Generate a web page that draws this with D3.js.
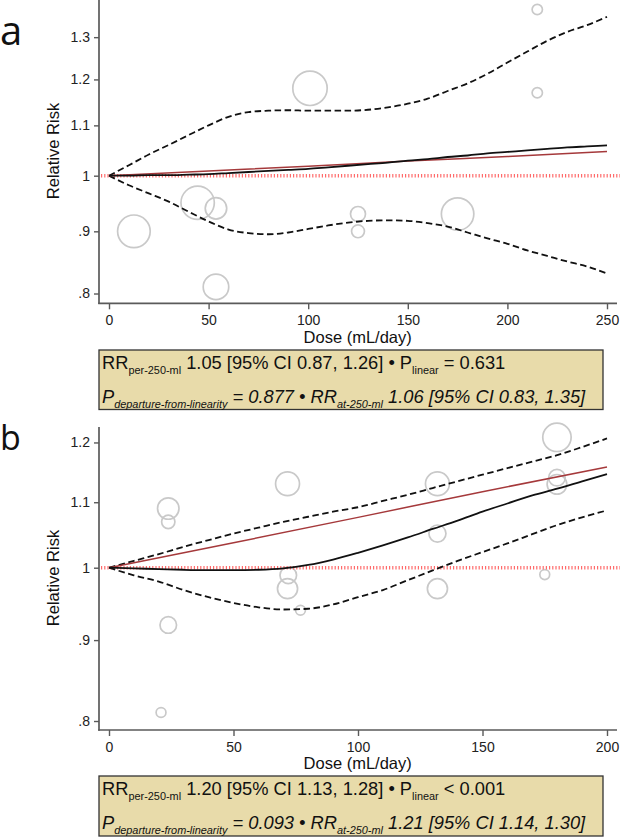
<!DOCTYPE html>
<html>
<head>
<meta charset="utf-8">
<script src="https://cdn.jsdelivr.net/npm/d3@7"></script>
<style>
  html, body { margin: 0; padding: 0; background: #fff; }
  svg { display: block; }
  text { font-family: "Liberation Sans", Arial, Helvetica, sans-serif; }
</style>
</head>
<body>
<script>
// ---------------- DATA ----------------
// Panel a
const doseGridA = [0,10,20,30,40,50,60,70,80,90,100,110,120,130,140,150,160,170,180,190,200,210,220,230,240,250];
const splineA   = [1.000,1.000,1.001,1.001,1.002,1.003,1.005,1.007,1.009,1.011,1.013,1.016,1.019,1.022,1.025,1.029,1.032,1.036,1.039,1.043,1.046,1.049,1.052,1.055,1.057,1.059];
const upperA    = [1.000,1.020,1.041,1.060,1.080,1.100,1.118,1.128,1.131,1.132,1.131,1.131,1.131,1.133,1.138,1.146,1.157,1.174,1.191,1.213,1.239,1.265,1.291,1.313,1.330,1.351];
const lowerA    = [1.000,0.982,0.967,0.952,0.934,0.917,0.903,0.897,0.895,0.898,0.904,0.910,0.915,0.918,0.919,0.918,0.914,0.908,0.898,0.888,0.879,0.868,0.859,0.850,0.842,0.831];
const linDoseA  = [0,50,100,150,200,250];
const linearA   = [1.000,1.009,1.018,1.028,1.037,1.047];
const studyDoseA   = [12.5,44.5,53.7,53.7,100.9,125,125,175,215,215];
const studyRRA     = [0.90,0.95,0.94,0.81,1.18,0.93,0.90,0.93,1.37,1.17];
const studyWeightA = [90,94,39,55,100,19,14,89,9,9];
const xTicksA = [0,50,100,150,200,250];
const yTicksA = [0.8,0.9,1,1.1,1.2,1.3];
const yTickLabelsA = [".8",".9","1","1.1","1.2","1.3"];

// Panel b
const doseGridB = [0,10,20,30,40,50,60,70,80,90,100,110,120,130,140,150,160,170,180,190,200];
const splineB   = [1.000,0.999,0.998,0.997,0.9965,0.9965,0.997,0.999,1.004,1.012,1.022,1.033,1.045,1.058,1.071,1.085,1.098,1.111,1.122,1.134,1.146];
const upperB    = [1.000,1.010,1.020,1.031,1.041,1.051,1.060,1.069,1.077,1.085,1.092,1.102,1.112,1.123,1.134,1.145,1.156,1.167,1.178,1.192,1.207];
const lowerB    = [1.000,0.989,0.980,0.968,0.958,0.950,0.944,0.941,0.942,0.948,0.958,0.968,0.982,0.996,1.010,1.023,1.036,1.050,1.064,1.076,1.087];
const linDoseB  = [0,50,100,150,200];
const linearB   = [1.000,1.037,1.076,1.117,1.158];
const studyDoseB   = [23.8,23.8,71.7,23.8,20.9,72,71.7,76.9,131.9,131.9,131.9,179.9,179.9,179.9,175];
const studyRRB     = [1.09,1.069,1.13,0.92,0.81,0.989,0.970,0.940,1.13,1.051,0.970,1.209,1.14,1.129,0.99];
const studyWeightB = [57,22,71,34,12,34,50,12,71,36,50,100,34,48,12];
const xTicksB = [0,50,100,150,200];
const yTicksB = [0.8,0.9,1,1.1,1.2];
const yTickLabelsB = [".8",".9","1","1.1","1.2"];

// Annotation texts
const annotA = {
  l1: [["RR",""],["per-250-ml","sub"],[" 1.05 [95% CI 0.87, 1.26] \u2022 P",""],["linear","sub"],[" = 0.631",""]],
  l2: [["P",""],["departure-from-linearity","sub"],[" = 0.877 \u2022 RR",""],["at-250-ml","sub"],[" 1.06 [95% CI 0.83, 1.35]",""]]
};
const annotB = {
  l1: [["RR",""],["per-250-ml","sub"],[" 1.20 [95% CI 1.13, 1.28] \u2022 P",""],["linear","sub"],[" < 0.001",""]],
  l2: [["P",""],["departure-from-linearity","sub"],[" = 0.093 \u2022 RR",""],["at-250-ml","sub"],[" 1.21 [95% CI 1.14, 1.30]",""]]
};

// ---------------- DRAW ----------------
const W = 620, H = 838;
const svg = d3.select("body").append("svg").attr("width", W).attr("height", H);

function drawPanel(p) {
  const g = svg.append("g");
  const x = d3.scaleLinear().domain(p.xDomain).range([109, 607]);
  const y = d3.scaleLog().domain(p.yDomain).range([p.bottom, p.top]);

  // study bubbles
  const r = d3.scaleSqrt().domain([0, 100]).range([0, p.rMax]);
  g.append("g").selectAll("circle")
    .data(p.studyDose.map((d, i) => ({d, rr: p.studyRR[i], w: p.studyW[i]})))
    .join("circle")
    .attr("cx", s => x(s.d)).attr("cy", s => y(s.rr)).attr("r", s => r(s.w))
    .attr("fill", "none").attr("stroke", "#c9c9c9").attr("stroke-width", 1.7);

  // reference line at RR = 1
  g.append("line")
    .attr("x1", 101).attr("x2", 620).attr("y1", y(1)).attr("y2", y(1))
    .attr("stroke", "#ff6b6b").attr("stroke-width", 3.5).attr("stroke-dasharray", "1.2,2");

  const line = d3.line().x(d => x(d[0])).y(d => y(d[1])).curve(d3.curveMonotoneX);

  // CI dashed
  [p.upper, p.lower].forEach(arr => {
    g.append("path").datum(p.grid.map((d, i) => [d, arr[i]]))
      .attr("d", line).attr("fill", "none").attr("stroke", "#111")
      .attr("stroke-width", 1.8).attr("stroke-dasharray", "6.5,3.5");
  });
  // linear trend (red)
  g.append("path").datum(p.linDose.map((d, i) => [d, p.linear[i]]))
    .attr("d", line).attr("fill", "none").attr("stroke", "#a5393b").attr("stroke-width", 1.5);
  // spline (black)
  g.append("path").datum(p.grid.map((d, i) => [d, p.spline[i]]))
    .attr("d", line).attr("fill", "none").attr("stroke", "#111").attr("stroke-width", 1.8);

  // axes
  const axisColor = "#5a5a5a";
  const yAxis = d3.axisLeft(y).tickValues(p.yTicks).tickFormat((d, i) => p.yLabels[i])
    .tickSize(5).tickSizeOuter(0).tickPadding(4);
  const ya = g.append("g").attr("transform", `translate(99,0)`).call(yAxis);
  ya.select(".domain").remove();
  const xAxis = d3.axisBottom(x).tickValues(p.xTicks).tickFormat(d3.format("d"))
    .tickSize(6).tickSizeOuter(0).tickPadding(6);
  const xa = g.append("g").attr("transform", `translate(0,${p.bottom})`).call(xAxis);
  xa.select(".domain").remove();
  [ya, xa].forEach(a => {
    a.selectAll(".tick line").attr("stroke", axisColor).attr("stroke-width", 1.4);
    a.selectAll(".tick text").attr("fill", "#222").style("font-size", "14px")
      .style("font-family", '"Liberation Sans", Arial, sans-serif');
  });
  g.append("line").attr("x1", 99).attr("x2", 99).attr("y1", p.axisTop).attr("y2", p.bottom + 0.8)
    .attr("stroke", axisColor).attr("stroke-width", 1.7);
  g.append("line").attr("x1", 98.2).attr("x2", 617).attr("y1", p.bottom).attr("y2", p.bottom)
    .attr("stroke", axisColor).attr("stroke-width", 1.7);

  // axis titles
  g.append("text").attr("transform", `translate(59,${p.yTitleY}) rotate(-90)`)
    .attr("text-anchor", "middle").style("font-size", "16.5px").attr("fill", "#111")
    .text("Relative Risk");
  g.append("text").attr("x", 357.7).attr("y", p.xTitleY)
    .attr("text-anchor", "middle").style("font-size", "16.5px").attr("fill", "#111")
    .text("Dose (mL/day)");

  // panel label
  g.append("text").attr("x", p.labelX).attr("y", p.labelY)
    .style("font-family", '"Open Sans", "Noto Sans", sans-serif')
    .style("font-size", p.labelSize + "px").attr("fill", "#111").text(p.label);

  // annotation box
  g.append("rect").attr("x", 99).attr("y", p.boxTop).attr("width", 504).attr("height", p.boxH)
    .attr("fill", "#e8dbaa").attr("stroke", "#333").attr("stroke-width", 1.3);
  [[p.annot.l1, p.boxTop + 18.5, "normal"], [p.annot.l2, p.boxTop + 53, "italic"]].forEach(([parts, by, st]) => {
    const t = g.append("text").attr("x", 102).attr("y", by).attr("fill", "#111")
      .style("font-style", st).style("font-size", "18.3px");
    let shifted = false;
    parts.forEach(([s, kind]) => {
      const ts = t.append("tspan").text(s);
      if (kind === "sub") {
        ts.style("font-size", "10.9px").attr("dy", shifted ? 0 : 5);
        shifted = true;
      } else {
        ts.style("font-size", "18.3px").attr("dy", shifted ? -5 : 0);
        shifted = false;
      }
    });
  });
}

drawPanel({
  xDomain: [0, 250], yDomain: [0.7853, 1.3948], top: 0, bottom: 303.3, axisTop: 0,
  grid: doseGridA, spline: splineA, upper: upperA, lower: lowerA,
  linDose: linDoseA, linear: linearA,
  studyDose: studyDoseA, studyRR: studyRRA, studyW: studyWeightA, rMax: 17.2,
  xTicks: xTicksA, yTicks: yTicksA, yLabels: yTickLabelsA,
  yTitleY: 151, xTitleY: 342.5, label: "a", labelX: 0, labelY: 45, labelSize: 40,
  boxTop: 350, boxH: 59.5, annot: annotA
});
drawPanel({
  xDomain: [0, 200], yDomain: [0.7896, 1.2273], top: 427, bottom: 730, axisTop: 427,
  grid: doseGridB, spline: splineB, upper: upperB, lower: lowerB,
  linDose: linDoseB, linear: linearB,
  studyDose: studyDoseB, studyRR: studyRRB, studyW: studyWeightB, rMax: 14.2,
  xTicks: xTicksB, yTicks: yTicksB, yLabels: yTickLabelsB,
  yTitleY: 578, xTitleY: 769, label: "b", labelX: 0, labelY: 450, labelSize: 34,
  boxTop: 776, boxH: 60, annot: annotB
});
</script>
</body>
</html>
